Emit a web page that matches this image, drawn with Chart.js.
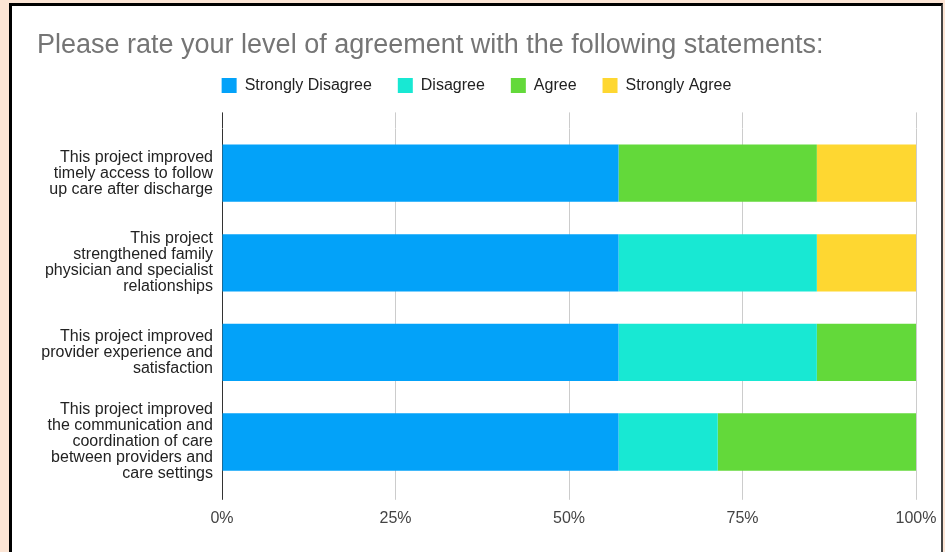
<!DOCTYPE html>
<html>
<head>
<meta charset="utf-8">
<script src="https://cdn.jsdelivr.net/npm/chart.js@4.4.1/dist/chart.umd.min.js"></script>
<style>
  html, body { margin: 0; padding: 0; background: #fce5d5; overflow: hidden; }
  #frame {
    position: absolute; left: 9px; top: 3px;
    width: 929px; height: 560px;
    background: #fff;
    border-left: 3px solid #000;
    border-top: 3px solid #000;
    border-right: 2px solid #444;
  }
  #wrap { position: relative; width: 934px; height: 546px; }
</style>
</head>
<body>
<div id="frame"><div id="wrap"><canvas id="myChart"></canvas></div></div>
<script>
// statements (split into lines as shown on the axis)
var categories = [
    ['This project improved', 'timely access to follow', 'up care after discharge'],
    ['This project', 'strengthened family', 'physician and specialist', 'relationships'],
    ['This project improved', 'provider experience and', 'satisfaction'],
    ['This project improved', 'the communication and', 'coordination of care', 'between providers and', 'care settings']
];
var seriesNames = ['Strongly Disagree', 'Disagree', 'Agree', 'Strongly Agree'];
// percent of responses
var stronglyDisagree = [57.14, 57.14, 57.14, 57.14];
var disagree = [0, 28.57, 28.57, 14.29];
var agree = [28.57, 0, 14.29, 28.57];
var stronglyAgree = [14.29, 14.29, 0, 0];
var xTicks = [0, 25, 50, 75, 100];

var colors = ['#03a2f9', '#18e8d3', '#63d93a', '#fed731'];
var values = [stronglyDisagree, disagree, agree, stronglyAgree];
var FONT = 'Liberation Sans, Arial, sans-serif';

var gridColor = function (ctx) {
    return ctx.tick && ctx.tick.value === 0 ? '#333333' : '#cccccc';
};

// a bit more room under the legend
var legendMargin = {
    id: 'legendMargin',
    beforeInit: function (chart) {
        var fit = chart.legend.fit;
        chart.legend.fit = function () {
            fit.bind(chart.legend)();
            this.height += 9;
        };
    }
};

document.addEventListener('DOMContentLoaded', function () {
    var ctx = document.getElementById('myChart').getContext('2d');
    var datasets = seriesNames.map(function (name, i) {
        return {
            label: name,
            data: values[i],
            backgroundColor: colors[i],
            borderWidth: 0,
            barPercentage: 0.64,
            categoryPercentage: 1.0
        };
    });
    new Chart(ctx, {
        type: 'bar',
        data: { labels: categories, datasets: datasets },
        plugins: [legendMargin],
        options: {
            indexAxis: 'y',
            responsive: true,
            maintainAspectRatio: false,
            animation: false,
            layout: { padding: { left: 25, right: 30, top: 0, bottom: 15 } },
            scales: {
                x: {
                    stacked: true,
                    min: 0, max: 100,
                    afterBuildTicks: function (scale) {
                        scale.ticks = xTicks.map(function (v) { return { value: v }; });
                    },
                    ticks: {
                        callback: function (v) { return v + '%'; },
                        color: '#444',
                        font: { family: FONT, size: 16 },
                        padding: 9,
                        maxRotation: 0
                    },
                    grid: { color: gridColor, tickColor: gridColor, tickLength: 13 },
                    border: { display: false }
                },
                x2: {
                    type: 'linear',
                    position: 'top',
                    min: 0, max: 100,
                    afterBuildTicks: function (scale) {
                        scale.ticks = xTicks.map(function (v) { return { value: v }; });
                    },
                    ticks: { display: false },
                    grid: { drawOnChartArea: false, color: gridColor, tickColor: gridColor, tickLength: 16 },
                    border: { display: false }
                },
                y: {
                    stacked: true,
                    grid: { display: false, drawTicks: false },
                    border: { display: false },
                    afterFit: function (scale) { scale.width = 185; },
                    ticks: {
                        color: '#222',
                        font: { family: FONT, size: 16, lineHeight: 1.0 },
                        padding: 9
                    }
                }
            },
            plugins: {
                title: {
                    display: true,
                    text: 'Please rate your level of agreement with the following statements:',
                    align: 'start',
                    color: '#757575',
                    font: { family: FONT, size: 27, weight: 'normal' },
                    padding: { top: 23, bottom: -10 }
                },
                legend: {
                    display: true,
                    position: 'top',
                    labels: {
                        boxWidth: 15,
                        boxHeight: 15,
                        padding: 26,
                        color: '#222',
                        font: { family: FONT, size: 16 }
                    }
                },
                tooltip: { enabled: false }
            }
        }
    });
});
</script>
</body>
</html>
